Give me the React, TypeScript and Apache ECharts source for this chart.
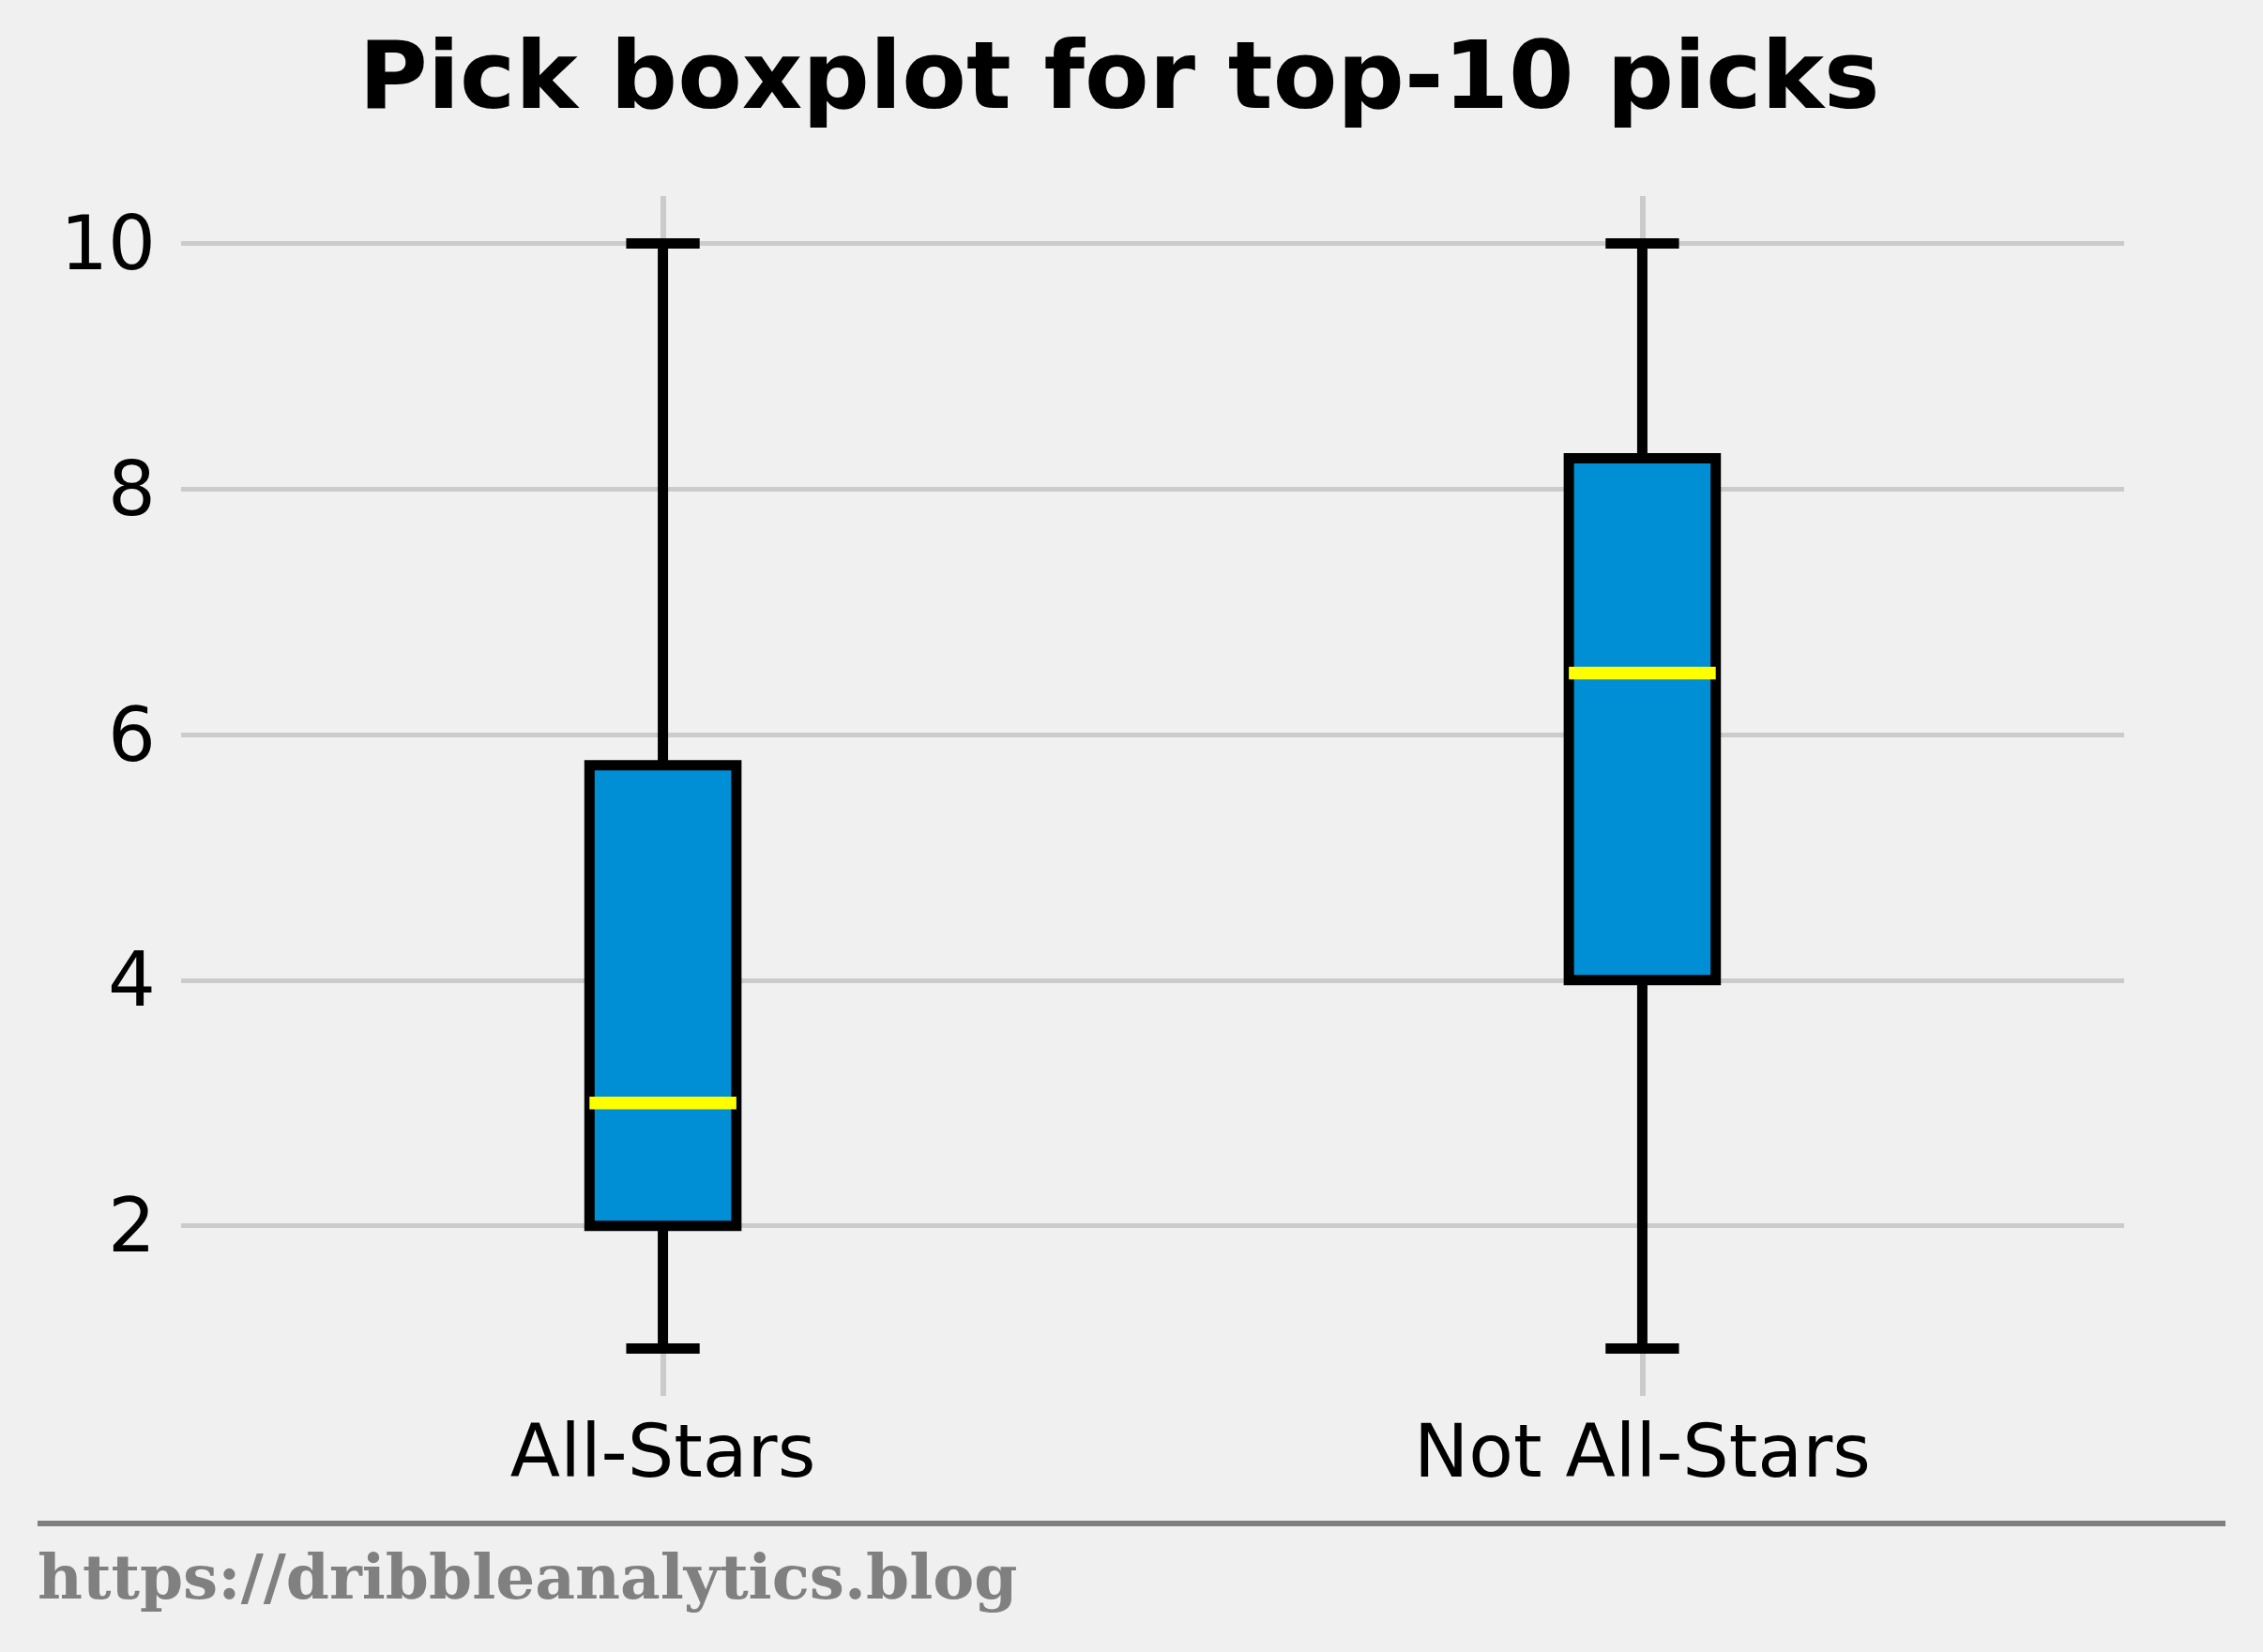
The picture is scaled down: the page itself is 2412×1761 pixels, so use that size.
import React, { useRef, useEffect } from 'react';
import * as echarts from 'echarts';

// five-number summaries
const categories = ['All-Stars', 'Not All-Stars'];
const lowWhisker = [1, 1];
const lowerQuartile = [2, 4];
const medians = [3, 6.5];
const upperQuartile = [5.75, 8.25];
const highWhisker = [10, 10];
const yTicks = [2, 4, 6, 8, 10];

const titleText = 'Pick boxplot for top-10 picks';
const footerText = 'https://dribbleanalytics.blog';

const App = () => {
  const chartRef = useRef(null);

  useEffect(() => {
    document.body.style.margin = '0';
    const chartDom = chartRef.current;
    const myChart = echarts.init(chartDom, null, { renderer: 'svg' });

    const positions = categories.map((c, i) => i);
    const boxData = categories.map((c, i) => [
      i,
      lowWhisker[i],
      lowerQuartile[i],
      medians[i],
      upperQuartile[i],
      highWhisker[i]
    ]);

    const option = {
      animation: false,
      backgroundColor: '#f0f0f0',
      textStyle: { fontFamily: 'DejaVu Sans' },
      grid: {
        left: 193,
        right: 148,
        top: 209,
        bottom: 273,
        outerBoundsMode: 'none'
      },
      // positions 0 and 1 hold the two groups, like matplotlib's 1 and 2
      xAxis: {
        type: 'value',
        min: -0.492,
        max: 1.492,
        axisLine: { show: false },
        axisTick: { show: false, customValues: positions },
        axisLabel: {
          customValues: positions,
          formatter: (v) => categories[Math.round(v)] || '',
          fontSize: 78,
          color: '#000',
          fontFamily: 'DejaVu Sans',
          margin: 20
        },
        splitLine: {
          show: true,
          lineStyle: { color: '#cbcbcb', width: 6 }
        }
      },
      yAxis: {
        type: 'value',
        min: 0.615,
        max: 10.385,
        axisLine: { show: false },
        axisTick: { show: false, customValues: yTicks },
        axisLabel: {
          customValues: yTicks,
          fontSize: 80,
          color: '#000',
          fontFamily: 'DejaVu Sans',
          margin: 27
        },
        splitLine: {
          show: true,
          lineStyle: { color: '#cbcbcb', width: 5 }
        }
      },
      graphic: [
        {
          type: 'text',
          style: {
            text: titleText,
            x: 1193,
            y: 80,
            fill: '#000',
            font: 'bold 100px "DejaVu Sans"',
            textAlign: 'center',
            textVerticalAlign: 'middle'
          }
        },
        {
          type: 'line',
          shape: { x1: 40, y1: 1624, x2: 2372, y2: 1624 },
          style: { stroke: '#808080', lineWidth: 6 }
        },
        {
          type: 'text',
          style: {
            text: footerText,
            x: 40,
            y: 1681,
            fill: '#808080',
            font: 'bold 66px "DejaVu Serif"',
            textAlign: 'left',
            textVerticalAlign: 'middle'
          }
        }
      ],
      series: [
        {
          type: 'custom',
          data: boxData,
          encode: { x: 0, y: [1, 2, 3, 4, 5] },
          renderItem: (params, api) => {
            const i = api.value(0);
            const x = api.coord([i, api.value(1)])[0];
            const yMin = api.coord([i, api.value(1)])[1];
            const yQ1 = api.coord([i, api.value(2)])[1];
            const yMed = api.coord([i, api.value(3)])[1];
            const yQ3 = api.coord([i, api.value(4)])[1];
            const yMax = api.coord([i, api.value(5)])[1];
            // box is 0.15 units wide, caps half of that
            const unit = api.size([1, 0])[0];
            const half = unit * 0.075;
            const cap = half / 2;
            const black = { stroke: '#000', lineWidth: 11, lineCap: 'butt' };
            return {
              type: 'group',
              children: [
                { type: 'line', shape: { x1: x, y1: yQ3, x2: x, y2: yMax }, style: black },
                { type: 'line', shape: { x1: x, y1: yQ1, x2: x, y2: yMin }, style: black },
                {
                  type: 'rect',
                  shape: { x: x - half, y: yQ3, width: half * 2, height: yQ1 - yQ3 },
                  style: { fill: '#008fd5', stroke: '#000', lineWidth: 11, lineJoin: 'miter' }
                },
                {
                  type: 'line',
                  shape: { x1: x - half, y1: yMed, x2: x + half, y2: yMed },
                  style: { stroke: '#ffff00', lineWidth: 13.5, lineCap: 'butt' }
                },
                { type: 'line', shape: { x1: x - cap, y1: yMax, x2: x + cap, y2: yMax }, style: black },
                { type: 'line', shape: { x1: x - cap, y1: yMin, x2: x + cap, y2: yMin }, style: black }
              ]
            };
          }
        }
      ]
    };

    myChart.setOption(option);

    return () => {
      myChart.dispose();
    };
  }, []);

  return <div ref={chartRef} style={{ width: '2412px', height: '1761px' }} />;
};

export default App;
